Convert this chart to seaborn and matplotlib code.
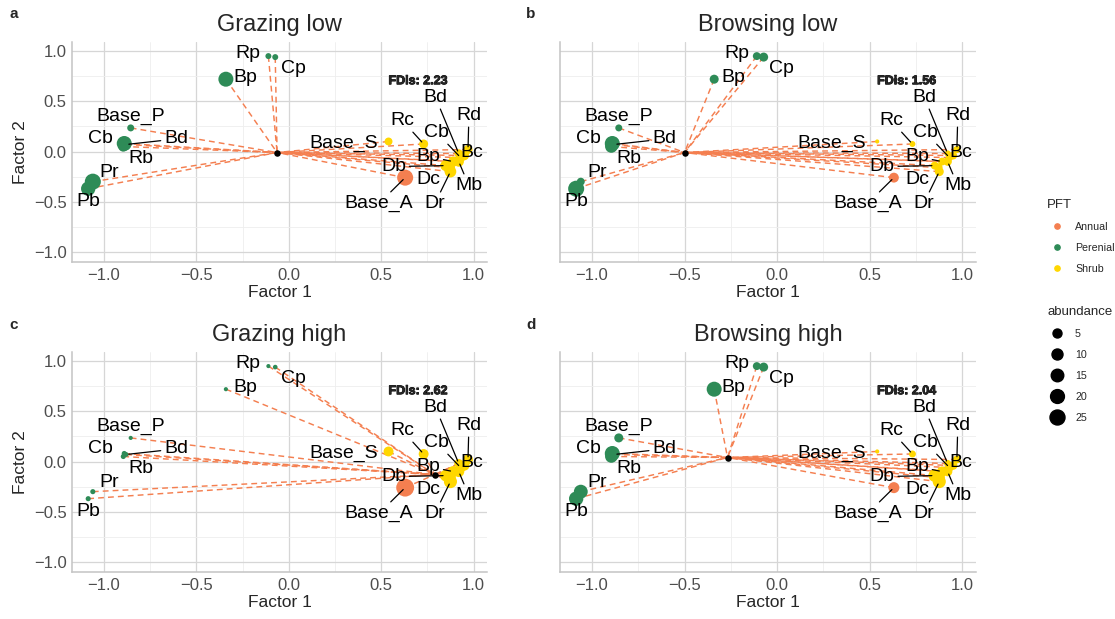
import matplotlib
matplotlib.use("Agg")
import matplotlib.pyplot as plt
import matplotlib.patheffects as pe
from matplotlib.lines import Line2D
from matplotlib.ticker import MultipleLocator
import numpy as np
import pandas as pd
import seaborn as sns

DPI = 100

# --- species scores (same ordination in all four panels) ---
species_id = ["Base_A", "Base_P", "Bd_P", "Cb_P", "Rb", "Pr", "Pb", "Bp_P", "Rp", "Cp",
              "Base_S", "Rc", "Bd_S", "Rd", "Cb_S", "Bc", "Bp_S", "Mb", "Db", "Dc", "Dr"]
species_label = ["Base_A", "Base_P", "Bd", "Cb", "Rb", "Pr", "Pb", "Bp", "Rp", "Cp",
                 "Base_S", "Rc", "Bd", "Rd", "Cb", "Bc", "Bp", "Mb", "Db", "Dc", "Dr"]
pft = ["Annual"] + ["Perenial"] * 9 + ["Shrub"] * 11
factor1 = [0.63, -0.855, -0.88, -0.89, -0.895, -1.06, -1.085, -0.34, -0.11, -0.073,
           0.54, 0.73, 0.92, 0.97, 0.93, 0.95, 0.89, 0.92, 0.85, 0.87, 0.875]
factor2 = [-0.26, 0.235, 0.07, 0.08, 0.05, -0.30, -0.37, 0.72, 0.95, 0.94,
           0.10, 0.075, -0.02, 0.02, -0.06, -0.04, -0.10, -0.10, -0.14, -0.16, -0.20]

# abundance of each species per treatment
abund_grazing_low = [30, 1.7, 5, 25, 8, 30, 22, 25, 0.7, 0.7,
                     3, 5, 4, 5, 6, 6, 8, 8, 10, 10, 12]
abund_browsing_low = [7, 1.7, 5, 25, 15, 3, 30, 5, 3, 5,
                      0, 0.7, 1, 2, 2, 3, 3, 4, 3, 4, 5]
abund_grazing_high = [40, 0, 0.1, 0.2, 0.2, 0.2, 0.2, 0, 0, 0.05,
                      7, 7, 5, 7, 8, 8, 10, 10, 12, 15, 17]
abund_browsing_high = [10, 5, 5, 25, 15, 20, 22, 25, 3, 5,
                       0, 1.7, 2, 3, 4, 4, 8, 6, 15, 17, 17]

panel_titles = ["Grazing low", "Browsing low", "Grazing high", "Browsing high"]
panel_tags = ["a", "b", "c", "d"]
fdis = [2.23, 1.56, 2.62, 2.04]
centroid_f1 = [-0.063, -0.50, 0.79, -0.268]
centroid_f2 = [-0.01, -0.01, -0.13, 0.04]

legend_abund = [5, 10, 15, 20, 25]
pft_levels = ["Annual", "Perenial", "Shrub"]
pft_colors = {"Annual": "#F47F50", "Perenial": "#2E8B57", "Shrub": "#FFD700"}

# label placement (text centre, draw segment?)
label_layout = {
    "Base_A": (0.487, -0.52, True), "Base_P": (-0.855, 0.345, False),
    "Bd_P": (-0.61, 0.125, True), "Cb_P": (-1.02, 0.125, False),
    "Rb": (-0.80, -0.065, False), "Pr": (-0.97, -0.21, False),
    "Pb": (-1.085, -0.50, False), "Bp_P": (-0.235, 0.74, False),
    "Rp": (-0.22, 0.98, False), "Cp": (0.025, 0.83, False),
    "Base_S": (0.296, 0.085, False), "Rc": (0.614, 0.31, True),
    "Bd_S": (0.794, 0.54, True), "Rd": (0.975, 0.36, True),
    "Cb_S": (0.80, 0.19, True), "Bc": (0.99, -0.01, False),
    "Bp_S": (0.755, -0.05, True), "Mb": (0.975, -0.34, True),
    "Db": (0.567, -0.15, True), "Dc": (0.755, -0.28, False),
    "Dr": (0.79, -0.52, True),
}


def point_area(v):
    # diameter grows with sqrt(abundance), like ggplot's area scale; returns pt^2
    d_px = 4.15 + 2.17 * np.sqrt(np.asarray(v, dtype=float))
    return (d_px * 72 / DPI) ** 2


AMAX = 600.0

sns.set_style("white")
plt.rcParams["font.family"] = ["Liberation Sans", "DejaVu Sans"]

fig = plt.figure(figsize=(11.15, 6.19), dpi=DPI)
positions = [
    [0.0646, 0.5767, 0.3722, 0.3554],
    [0.5022, 0.5767, 0.3731, 0.3554],
    [0.0646, 0.0759, 0.3722, 0.3554],
    [0.5022, 0.0759, 0.3731, 0.3554],
]
tag_xy = [(14, 14), (531, 14), (14, 325), (531, 325)]
abundances = [abund_grazing_low, abund_browsing_low, abund_grazing_high, abund_browsing_high]

for i in range(4):
    ax = fig.add_axes(positions[i])
    df = pd.DataFrame({"id": species_id, "label": species_label, "pft": pft,
                       "factor1": factor1, "factor2": factor2, "abundance": abundances[i]})
    df["area"] = point_area(df["abundance"])
    cx, cy = centroid_f1[i], centroid_f2[i]

    # dashed spokes to the weighted centroid
    for x, y in zip(df["factor1"], df["factor2"]):
        ax.plot([x, cx], [y, cy], color="#F47F50", lw=1.05, ls=(0, (4, 2.8)), zorder=2)

    sns.scatterplot(data=df, x="factor1", y="factor2", hue="pft", palette=pft_colors,
                    hue_order=pft_levels, size="area", sizes=(0, AMAX), size_norm=(0, AMAX),
                    linewidth=0, legend=False, ax=ax, zorder=3)
    sns.scatterplot(x=[cx], y=[cy], color="black", s=22, linewidth=0, ax=ax, zorder=4)

    for _, r in df.iterrows():
        lx, ly, seg = label_layout[r["id"]]
        arrow = dict(arrowstyle="-", color="black", lw=0.9, shrinkA=0, shrinkB=2) if seg else None
        ax.annotate(r["label"], xy=(r["factor1"], r["factor2"]), xytext=(lx, ly),
                    textcoords="data", ha="center", va="center", fontsize=14,
                    color="black", arrowprops=arrow, zorder=5)

    ax.text(0.70, 0.70, f"FDis: {fdis[i]:.2f}", ha="center", va="center",
            fontsize=9, fontweight="bold", zorder=6,
            path_effects=[pe.withStroke(linewidth=0.6, foreground="black")])

    ax.set_xlim(-1.1725, 1.073)
    ax.set_ylim(-1.1, 1.09)
    ax.xaxis.set_major_locator(MultipleLocator(0.5))
    ax.yaxis.set_major_locator(MultipleLocator(0.5))
    ax.xaxis.set_minor_locator(MultipleLocator(0.25))
    ax.yaxis.set_minor_locator(MultipleLocator(0.25))
    ax.grid(which="major", color="#d6d6d6", lw=0.9)
    ax.grid(which="minor", color="#eeeeee", lw=0.6)
    ax.set_axisbelow(True)
    ax.tick_params(which="both", length=0, labelsize=12, labelcolor="#4d4d4d", pad=4)
    for side in ["top", "right"]:
        ax.spines[side].set_visible(False)
    for side in ["left", "bottom"]:
        ax.spines[side].set_color("#c4c4c4")
        ax.spines[side].set_linewidth(1.1)

    ax.set_title(panel_titles[i], fontsize=17, pad=8)
    ax.set_xlabel("Factor 1", fontsize=12.5, labelpad=2)
    if i % 2 == 0:
        ax.set_ylabel("Factor 2", fontsize=12.5)
    else:
        ax.set_ylabel("")
        ax.tick_params(axis="y", labelleft=False)

    tx, ty = tag_xy[i]
    fig.text(tx / 1115, 1 - ty / 619, panel_tags[i], fontsize=11, fontweight="bold",
             ha="center", va="center")

# legends
pft_handles = [Line2D([], [], marker="o", ls="", color=pft_colors[p], markersize=3.8)
               for p in pft_levels]
leg1 = fig.legend(pft_handles, pft_levels, title="PFT", loc="upper left",
                  bbox_to_anchor=(1047 / 1115, 1 - 199 / 619), frameon=False,
                  fontsize=7.7, title_fontsize=9.5, borderpad=0, borderaxespad=0,
                  handlelength=1.87, handletextpad=0.75, labelspacing=1.03,
                  alignment="left")

size_handles = [Line2D([], [], marker="o", ls="", color="black",
                       markersize=np.sqrt(point_area(v))) for v in legend_abund]
leg2 = fig.legend(size_handles, [str(v) for v in legend_abund], title="abundance",
                  loc="upper left", bbox_to_anchor=(1047 / 1115, 1 - 306 / 619),
                  frameon=False, fontsize=7.7, title_fontsize=9.5, borderpad=0,
                  borderaxespad=0, handlelength=1.87, handletextpad=0.75,
                  labelspacing=1.03, alignment="left")

fig.savefig("out.png", dpi=DPI)
